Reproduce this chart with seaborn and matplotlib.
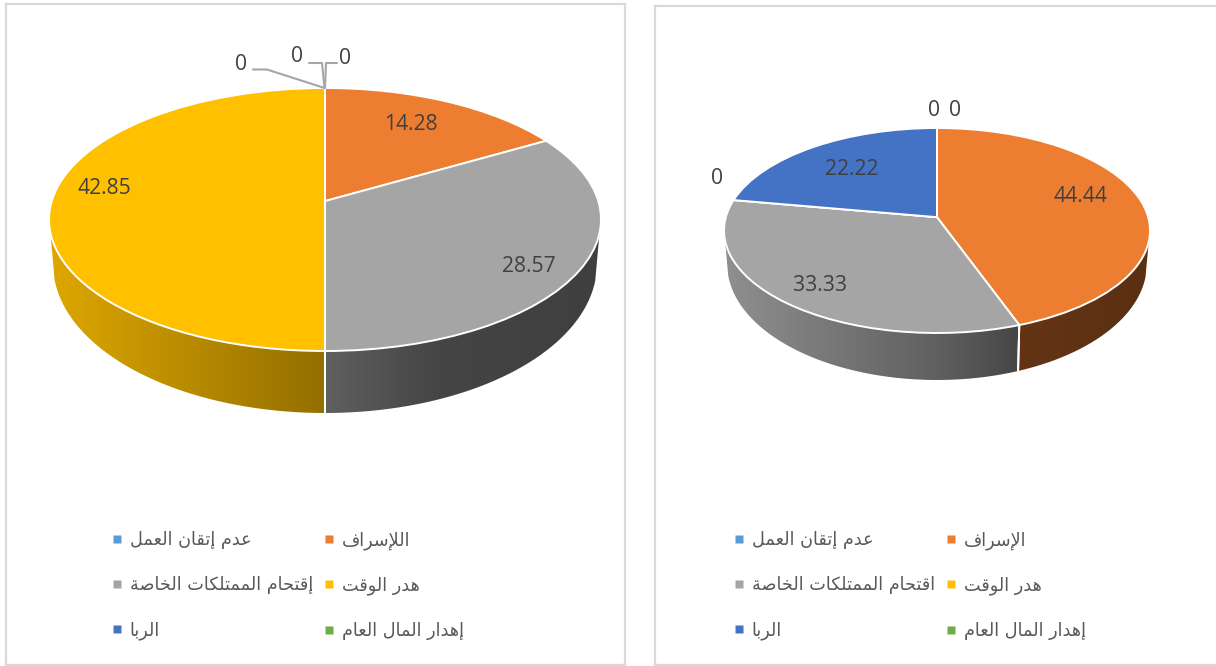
import unicodedata

import matplotlib
matplotlib.use("Agg")
import matplotlib.pyplot as plt
import numpy as np
import seaborn as sns
from matplotlib.lines import Line2D
from matplotlib.patches import PathPatch
from matplotlib.path import Path

W, H = 1216, 666

# series order as in the workbook (clockwise from the top of the pie)
cat_left = ["عدم إتقان العمل", "اللإسراف", "إقتحام الممتلكات الخاصة", "هدر الوقت", "الربا", "إهدار المال العام"]
val_left = [0, 14.28, 28.57, 42.85, 0, 0]

cat_right = ["عدم إتقان العمل", "الإسراف", "اقتحام الممتلكات الخاصة", "هدر الوقت", "الربا", "إهدار المال العام"]
val_right = [0, 44.44, 33.33, 0, 22.22, 0]

office = ["#5B9BD5", "#ED7D31", "#A5A5A5", "#FFC000", "#4472C4", "#70AD47"]

sns.set_theme(style="white")
plt.rcParams["font.family"] = ["Open Sans", "DejaVu Sans"]
palette = sns.color_palette(office)

# build the arabic contextual forms, matplotlib does no shaping on its own
forms = {"ISOLATED": {}, "FINAL": {}, "INITIAL": {}, "MEDIAL": {}}
for code in list(range(0xFE70, 0xFEFD)):
    name = unicodedata.name(chr(code), "")
    for form in forms:
        if name.endswith(form + " FORM"):
            forms[form][unicodedata.normalize("NFKC", chr(code))] = chr(code)
RIGHT_ONLY = set("اأإآدذرزوؤةى")


def shape(text):
    out = []
    i = 0
    prev_joins = False
    while i < len(text):
        ch = text[i]
        if ch == " ":
            out.append(ch)
            prev_joins = False
            i += 1
            continue
        if ch == "ل" and text[i + 1:i + 2] in ("ا", "أ", "إ", "آ"):
            key = ch + text[i + 1]
            out.append(forms["FINAL" if prev_joins else "ISOLATED"][key])
            prev_joins = False
            i += 2
            continue
        nxt = text[i + 1:i + 2]
        next_ok = nxt != "" and nxt != " " and ch not in RIGHT_ONLY
        if prev_joins and next_ok:
            form = "MEDIAL"
        elif prev_joins:
            form = "FINAL"
        elif next_ok:
            form = "INITIAL"
        else:
            form = "ISOLATED"
        out.append(forms[form].get(ch, forms["ISOLATED"].get(ch, ch)))
        prev_joins = next_ok
        i += 1
    return "".join(out)[::-1]


def shade(x):
    return np.interp(x, [-1, 0, 0.4, 1], [0.87, 0.58, 0.42, 0.38])


def draw_panel(fig, values, cats, frame, geom, value_pos, legend_xy, colspace, leaders=()):
    left, right, top, bottom = frame
    cx, mid, a, b, c, depth = geom
    ax = fig.add_axes([left / W, (H - bottom) / H, (right - left) / W, (bottom - top) / H])

    def px(x, y):
        return (x - cx) / a, (mid - y) / b

    def project(u, v):
        # perspective of the disc, the centre moves up but the rim stays on the ellipse
        d = 1 + c * v
        return u * np.sqrt(1 - c * c) / d, (v + c) / d

    def floor_rim(x, y):
        # lower edge of the wall, it gets thinner towards the back of the pie
        k = 1.13
        return x * 0.985, y * k - (depth / b - (k - 1))

    wedges, _ = ax.pie(values, colors=palette, startangle=90, counterclock=False, radius=1,
                       wedgeprops=dict(edgecolor="white", linewidth=1.4, zorder=3))
    for w in wedges:
        p = w.get_path()
        xs, ys = project(p.vertices[:, 0], p.vertices[:, 1])
        w._path = Path(np.column_stack([xs, ys]), p.codes)

    # side wall of the 3d pie, a horizontal gradient clipped to the wall outline
    for w, col, val in zip(wedges, palette, values):
        if val == 0:
            continue
        t = np.radians(np.linspace(w.theta1, w.theta2, 400))
        xs, ys = project(np.cos(t), np.sin(t))
        for end in (0, -1):
            if ys[end] < -0.1:
                bx, by = floor_rim(xs[end], ys[end])
                ax.plot([xs[end], bx], [ys[end], by], color="white", lw=1.4, zorder=2.5,
                        solid_capstyle="butt")
        keep = ys < -0.1
        xs, ys = xs[keep], ys[keep]
        if len(xs) < 2:
            continue
        outline = np.vstack([np.column_stack([xs, ys]),
                             np.column_stack(floor_rim(xs, ys))[::-1]])
        clip = PathPatch(Path(outline, closed=False), transform=ax.transData, fc="none", ec="none")
        ax.add_patch(clip)
        gx = np.linspace(outline[:, 0].min(), outline[:, 0].max(), 200)
        grad = (np.array(col)[None, None, :] * shade(gx)[None, :, None]).clip(0, 1)
        im = ax.imshow(grad, extent=(gx[0], gx[-1], outline[:, 1].min(), outline[:, 1].max()),
                       aspect="auto", zorder=2, interpolation="bilinear")
        im.set_clip_path(clip)

    ax.set_aspect("auto")
    x0, y0 = px(left, bottom)
    x1, y1 = px(right, top)
    ax.set_xlim(x0, x1)
    ax.set_ylim(y0, y1)
    ax.set_frame_on(True)
    ax.set_xticks([])
    ax.set_yticks([])
    for name, sp in ax.spines.items():
        sp.set_visible(True)
        sp.set_color("#D9D9D9")
        sp.set_linewidth(1.6)

    for val, (x, y) in zip(values, value_pos):
        ax.text(*px(x, y), f"{val:g}", ha="center", va="center", color="#404040",
                fontsize=15.2, family="Open Sans", zorder=5)

    for line in leaders:
        pts = np.array([px(x, y) for x, y in line])
        ax.plot(pts[:, 0], pts[:, 1], color="#A6A6A6", lw=1.5, zorder=4)

    # legend reads right to left in two columns, matplotlib fills column by column
    order = [0, 2, 4, 1, 3, 5]
    handles = [Line2D([], [], ls="none", marker="s", ms=5.8, mec="none", color=palette[i]) for i in order]
    labels = [shape(cats[i]) for i in order]
    ax.legend(handles, labels, loc="upper left", ncol=2, frameon=False,
              bbox_to_anchor=(legend_xy[0] / W, 1 - legend_xy[1] / H), bbox_transform=fig.transFigure,
              borderpad=0, borderaxespad=0, handlelength=0.46, handletextpad=0.49,
              labelspacing=1.53, columnspacing=colspace, labelcolor="#595959",
              prop=dict(family="DejaVu Sans", size=12.7))
    return ax


fig = plt.figure(figsize=(W / 100, H / 100), dpi=100, facecolor="white")

draw_panel(fig, val_left, cat_left, (5.5, 624.5, 3.5, 665), (325, 219.5, 276, 131.5, 0.14, 62),
           [(345, 59), (411, 125), (529, 266), (104, 189), (297, 56), (241, 65)],
           (113, 531), 0.7,
           leaders=[[(253, 69.5), (267, 69.5), (324.5, 88)],
                    [(309, 63), (322, 63), (324.5, 88)],
                    [(337, 63), (326, 63), (325, 88)]])

draw_panel(fig, val_right, cat_right, (654.5, 1218, 6, 665), (937, 230.5, 213, 102.5, 0.13, 47),
           [(955, 110), (1080, 197), (820, 286), (717, 179), (852, 170), (934, 110)],
           (735, 531), 0.7)

fig.savefig("out.png", dpi=100)
